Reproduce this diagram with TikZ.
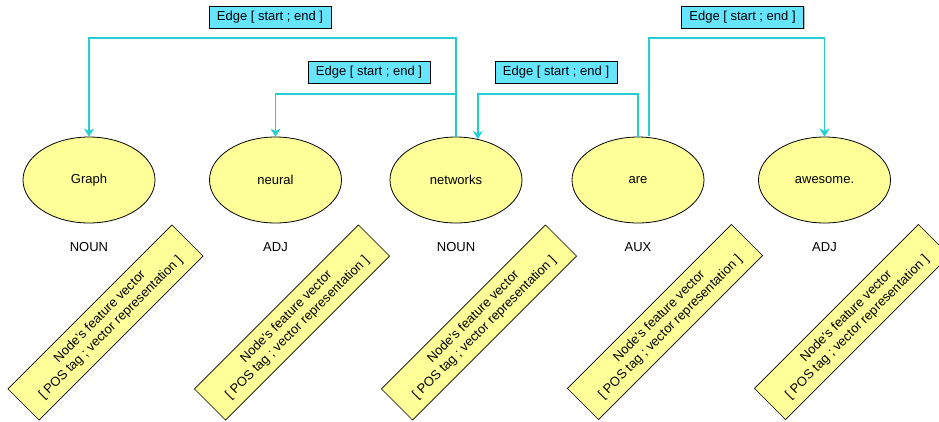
\documentclass[tikz,border=0pt]{standalone}
\usepackage{fontspec}
\setmainfont{Liberation Sans}
\usetikzlibrary{shapes.geometric,arrows.meta,shadows}
\definecolor{nodeyellow}{HTML}{FFFF99}
\definecolor{edgecyan}{HTML}{66E5FF}
\definecolor{linecyan}{HTML}{1FCFD2}
\tikzset{
  word/.style={ellipse,draw=black,line width=0.8pt,fill=nodeyellow,minimum width=132pt,minimum height=86pt,inner sep=0pt,font=\fontsize{13}{15}\selectfont},
  postag/.style={inner sep=0pt,font=\fontsize{13}{15}\selectfont},
  featbox/.style={rectangle,draw=black,line width=0.6pt,fill=nodeyellow,minimum width=232pt,minimum height=44pt,inner sep=0pt,align=center,rotate=45,font=\fontsize{13}{15.5}\selectfont},
  edgebox/.style={rectangle,draw=black,line width=0.8pt,fill=edgecyan,minimum width=122pt,minimum height=22pt,inner sep=0pt,font=\fontsize{13}{15}\selectfont,drop shadow={shadow xshift=1pt,shadow yshift=-1pt,fill=gray!70,opacity=0.8}},
  conn/.style={draw=linecyan,line width=1.4pt,-{Stealth[length=8pt,width=10pt,inset=2.5pt]}},
}
\begin{document}
\begin{tikzpicture}[x=1pt,y=-1pt]
\useasboundingbox (0,0) rectangle (939,421);
% words
\node[word] (graph) at (89,180) {Graph};
\node[word] (neural) at (275.5,180) {neural};
\node[word] (net) at (456,180) {networks};
\node[word] (are) at (638,180) {are};
\node[word] (awe) at (824.5,180) {awesome.};
% POS tags
\node[postag] (t1) at (89,247) {NOUN};
\node[postag] (t2) at (275.5,247) {ADJ};
\node[postag] (t3) at (456,247) {NOUN};
\node[postag] (t4) at (638,247) {AUX};
\node[postag] (t5) at (824.5,247) {ADJ};
% feature boxes
\node[featbox] (f1) at (105.5,322.5) {Node's feature vector\\{[} POS tag ; vector representation ]};
\node[featbox] (f2) at (292,322.5) {Node's feature vector\\{[} POS tag ; vector representation ]};
\node[featbox] (f3) at (479,322.5) {Node's feature vector\\{[} POS tag ; vector representation ]};
\node[featbox] (f4) at (665,322) {Node's feature vector\\{[} POS tag ; vector representation ]};
\node[featbox] (f5) at (852,322) {Node's feature vector\\{[} POS tag ; vector representation ]};
% edge labels
\node[edgebox] (e1) at (270,17) {Edge [ start ; end ]};
\node[edgebox] (e2) at (369,72) {Edge [ start ; end ]};
\node[edgebox] (e3) at (556,72) {Edge [ start ; end ]};
\node[edgebox] (e4) at (742.5,17) {Edge [ start ; end ]};
% levels
\coordinate (hi) at (0,38);
\coordinate (lo) at (0,94);
% connectors
\draw[conn] (net.north) -- (net.north |- hi) -| (graph.north);
\draw[conn] (net.north) -- (net.north |- lo) -| (neural.north);
\draw[conn] (are.north) -- (are.north |- lo) -| (net.62);
\draw[conn] ([xshift=11pt,yshift=1pt]are.north) -- ([xshift=11pt]are.north |- hi) -| (awe.north);
\end{tikzpicture}
\end{document}
